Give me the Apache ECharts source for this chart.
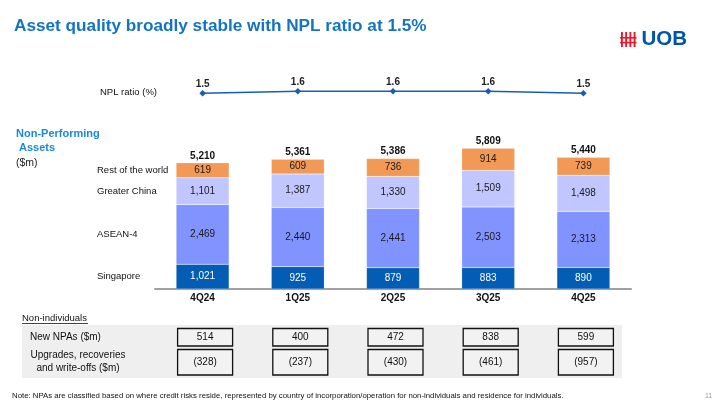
<!DOCTYPE html>
<html><head><meta charset="utf-8">
<script src="https://cdn.jsdelivr.net/npm/echarts@6/dist/echarts.min.js"></script>
<style>html,body{margin:0;padding:0;background:#fff}#c{width:716px;height:406px}</style>
</head><body><div id="c"></div>
<script>
const categories = ['4Q24','1Q25','2Q25','3Q25','4Q25'];
const nplRatio = [1.5, 1.6, 1.6, 1.6, 1.5];
const singapore = [1021, 925, 879, 883, 890];
const asean4 = [2469, 2440, 2441, 2503, 2313];
const greaterChina = [1101, 1387, 1330, 1509, 1498];
const restOfWorld = [619, 609, 736, 914, 739];
const newNPAs = [514, 400, 472, 838, 599];
const upgrades = [-328, -237, -430, -461, -957];
const segNames = ['Singapore','ASEAN-4','Greater China','Rest of the world'];

const FONT = 'Liberation Sans, Arial, sans-serif';
const fmt = v => v.toLocaleString('en-US');
const fmtNeg = v => v < 0 ? '(' + fmt(-v) + ')' : fmt(v);
const totals = categories.map((_, i) => singapore[i] + asean4[i] + greaterChina[i] + restOfWorld[i]);

const colors = ['#045DB5', '#8093FE', '#C1C7FE', '#F29956'];
const segData = [singapore, asean4, greaterChina, restOfWorld];

const chart = echarts.init(document.getElementById('c'), null, {renderer: 'canvas'});

const series = segData.map((d, k) => ({
  name: segNames[k], type: 'bar', stack: 'npa', xAxisIndex: 0, yAxisIndex: 0,
  barWidth: 53, data: d,
  itemStyle: {color: colors[k], borderColor: 'rgba(255,255,255,0.35)', borderWidth: 0.5},
  label: {show: true, position: 'inside', fontFamily: FONT, fontSize: 10,
    color: k === 0 ? '#fff' : '#1a1a1a', formatter: p => fmt(p.value)},
  silent: true, animation: false
}));
series.push({
  name: 'total', type: 'bar', stack: 'npa', xAxisIndex: 0, yAxisIndex: 0, barWidth: 53,
  data: totals.map(() => 0), itemStyle: {color: 'transparent'},
  label: {show: true, position: 'top', distance: 2, fontFamily: FONT, fontSize: 10, fontWeight: 'bold',
    color: '#111', formatter: p => fmt(totals[p.dataIndex])},
  animation: false
});
series.push({
  name: 'NPL', type: 'line', xAxisIndex: 1, yAxisIndex: 1, data: nplRatio,
  symbol: 'diamond', symbolSize: 6.5, lineStyle: {color: '#1A5DB0', width: 1.5},
  itemStyle: {color: '#1A5DB0'},
  label: {show: true, position: 'top', distance: 1, fontFamily: FONT, fontSize: 10, fontWeight: 'bold',
    color: '#222', formatter: p => p.value.toFixed(1)},
  animation: false
});

chart.setOption({
  animation: false,
  textStyle: {fontFamily: FONT},
  grid: [
    {left: 155, right: 85, top: 143.7, bottom: 117},
    {left: 155, right: 85, top: 83.3, bottom: 302.7}
  ],
  xAxis: [
    {type: 'category', gridIndex: 0, data: categories,
      axisLine: {lineStyle: {color: '#A0A0A0', width: 2}}, axisTick: {show: false},
      axisLabel: {fontFamily: FONT, fontSize: 10, fontWeight: 'bold', color: '#111', margin: 4}},
    {type: 'category', gridIndex: 1, data: categories, show: false}
  ],
  yAxis: [
    {type: 'value', gridIndex: 0, min: 0, max: 6000, show: false, splitLine: {show: false}},
    {type: 'value', gridIndex: 1, min: 1, max: 2, show: false, splitLine: {show: false}}
  ],
  series: series
});

// Build annotations positioned from the chart's own scales
const g = [];
// Title
g.push({type: 'text', left: 14, top: 18, style: {text: 'Asset quality broadly stable with NPL ratio at 1.5%',
  fontFamily: FONT, fontSize: 17.2, fontWeight: 'bold', fill: '#1474C4'}});
// UOB logo
const lx = 621, ly = 32;
[0, 4.2, 8.4, 12.6].forEach(dx => g.push({type: 'rect', shape: {x: lx + dx, y: ly, width: 1.9, height: 15}, style: {fill: '#E8192C'}}));
[5, 9.8].forEach(dy => g.push({type: 'rect', shape: {x: lx - 1, y: ly + dy, width: 16.5, height: 1.6}, style: {fill: '#E8192C'}}));
g.push({type: 'text', x: 641.5, y: 28.5, style: {text: 'UOB', fontFamily: FONT, fontSize: 20.5, fontWeight: 'bold', fill: '#0055A8'}});

// NPL ratio label
const nplY = chart.convertToPixel({xAxisIndex: 1, yAxisIndex: 1}, [0, 1.55])[1];
g.push({type: 'text', x: 100, y: nplY, style: {text: 'NPL ratio (%)', fontFamily: FONT, fontSize: 9.5, fill: '#111', verticalAlign: 'middle'}});

// Non-Performing Assets
g.push({type: 'text', x: 16, y: 128, style: {text: 'Non-Performing', fontFamily: FONT, fontSize: 11, fontWeight: 'bold', fill: '#1A8AD8'}});
g.push({type: 'text', x: 19, y: 142, style: {text: 'Assets', fontFamily: FONT, fontSize: 11, fontWeight: 'bold', fill: '#1A8AD8'}});
g.push({type: 'text', x: 16, y: 158, style: {text: '($m)', fontFamily: FONT, fontSize: 10.5, fill: '#222'}});

// Segment legend labels aligned with the first bar's segments
let cum = 0;
segData.forEach((d, k) => {
  const mid = cum + d[0] / 2; cum += d[0];
  const y = chart.convertToPixel({xAxisIndex: 0, yAxisIndex: 0}, [0, mid])[1];
  g.push({type: 'text', x: 97, y: y, style: {text: segNames[k], fontFamily: FONT, fontSize: 9.5, fill: '#111', verticalAlign: 'middle'}});
});

// Table
g.push({type: 'text', x: 22, y: 313, style: {text: 'Non-individuals', fontFamily: FONT, fontSize: 9.5, fill: '#111'}});
g.push({type: 'line', shape: {x1: 22, y1: 323.5, x2: 88, y2: 323.5}, style: {stroke: '#111', lineWidth: 0.8}});
g.push({type: 'rect', shape: {x: 22, y: 325, width: 600, height: 53}, style: {fill: '#EFEFEF'}});
g.push({type: 'text', x: 30, y: 337.5, style: {text: 'New NPAs ($m)', fontFamily: FONT, fontSize: 10, fill: '#111', verticalAlign: 'middle'}});
g.push({type: 'text', x: 78, y: 362, style: {text: 'Upgrades, recoveries\nand write-offs ($m)', fontFamily: FONT, fontSize: 10, lineHeight: 13, fill: '#111', align: 'center', verticalAlign: 'middle'}});
categories.forEach((c, i) => {
  const cx = chart.convertToPixel({xAxisIndex: 0, yAxisIndex: 0}, [i, 0])[0] + 2.5;
  g.push({type: 'rect', shape: {x: cx - 27.5, y: 328.5, width: 55, height: 17.5}, style: {fill: '#F2F2F2', stroke: '#111', lineWidth: 1.3}});
  g.push({type: 'text', x: cx, y: 337.5, style: {text: fmt(newNPAs[i]), fontFamily: FONT, fontSize: 10, fill: '#111', align: 'center', verticalAlign: 'middle'}});
  g.push({type: 'rect', shape: {x: cx - 27.5, y: 349.5, width: 55, height: 25.5}, style: {fill: '#F2F2F2', stroke: '#111', lineWidth: 1.3}});
  g.push({type: 'text', x: cx, y: 362.5, style: {text: fmtNeg(upgrades[i]), fontFamily: FONT, fontSize: 10, fill: '#111', align: 'center', verticalAlign: 'middle'}});
});

// Footnote
g.push({type: 'text', x: 12, y: 395.5, style: {text: 'Note: NPAs are classified based on where credit risks reside, represented by country of incorporation/operation for non-individuals and residence for individuals.',
  fontFamily: FONT, fontSize: 7.8, fill: '#111', verticalAlign: 'middle'}});
g.push({type: 'text', x: 705, y: 396, style: {text: '11', fontFamily: FONT, fontSize: 7, fill: '#999', verticalAlign: 'middle'}});

chart.setOption({graphic: g});
</script>
</body></html>
